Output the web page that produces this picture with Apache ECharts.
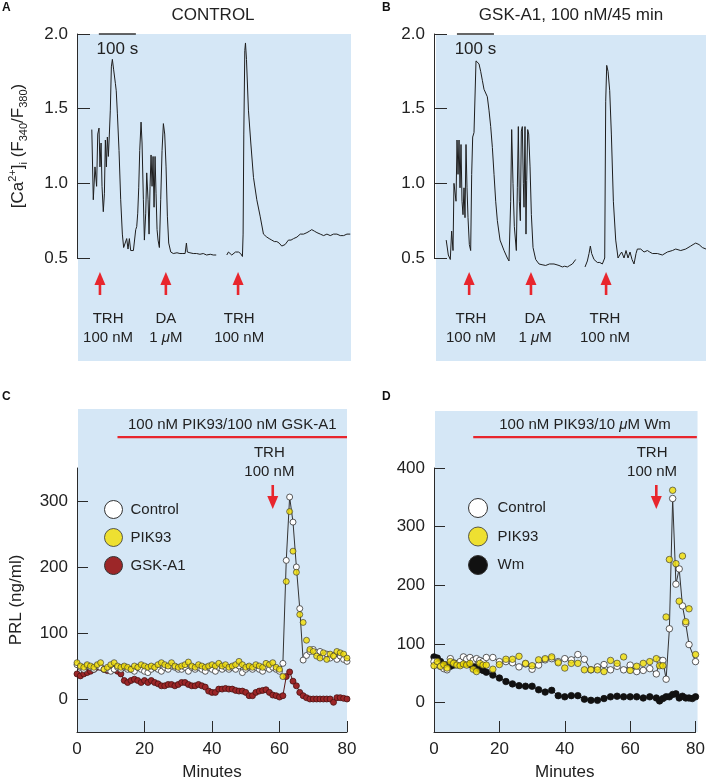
<!DOCTYPE html>
<html><head><meta charset="utf-8">
<script src="https://cdn.jsdelivr.net/npm/echarts/dist/echarts.min.js"></script>
<style>html,body{margin:0;padding:0;background:#fff}#c{width:708px;height:782px}</style>
</head><body><div id="c"></div>
<script>
// ---------- DATA ----------
// Panel A: [Ca2+]i trace, control (time in s, ratio F340/F380)
const traceA = [[40,1.36],[44,0.89],[48.6,1.11],[53,0.98],[56,1.33],[59.5,1.37],[62,1.11],[65,1.27],[67.6,0.98],[71,0.81],[74,0.93],[76.6,1.29],[79.3,1.11],[82,1.31],[84.7,1.18],[87.4,1.33],[90,1.49],[92.8,1.78],[95.5,1.83],[99,1.76],[103.6,1.67],[106,1.62],[109,1.47],[113.5,1.22],[118,0.89],[122.5,0.66],[126,0.57],[130.6,0.56],[134.2,0.63],[137.8,0.56],[141.4,0.63],[145,0.55],[152.3,0.55],[156.8,0.56],[158.6,0.69],[161.3,0.71],[164,0.80],[166.7,0.97],[169.4,1.22],[173,1.41],[175.7,1.27],[179.3,0.89],[182,0.62],[185.6,0.80],[188.3,1.07],[191.9,0.89],[194.6,0.66],[197.3,0.98],[200,1.19],[202.7,0.98],[205.4,1.18],[208.1,0.84],[210.8,1.18],[213.5,0.93],[216.2,0.69],[218.9,0.62],[222.5,0.57],[226.1,0.89],[229.7,1.22],[233.3,1.40],[236.9,1.33],[240.5,1.11],[244.1,0.78],[247.7,0.60],[253.2,0.54],[260,0.53],[270,0.535],[278,0.53],[286,0.53],[292,0.53],[295.5,0.60],[298,0.54],[305,0.535],[314,0.53],[323,0.53],[332,0.525],[341,0.53],[350,0.52],[360,0.525],[368,0.52],[376,0.52],[390,'-'],[404.5,0.52],[409,0.54],[413.5,0.54],[418,0.52],[422.5,0.53],[428,0.54],[432,0.53],[436,0.54],[442,0.53],[446.8,0.51],[448.6,0.66],[450.5,1.33],[453.2,1.89],[455,1.94],[457.7,1.83],[463,1.49],[469.4,1.27],[476.6,1.04],[485.6,0.89],[494.6,0.78],[503.6,0.66],[512.6,0.64],[519,0.63],[526,0.62],[533,0.61],[539.6,0.61],[546,0.60],[553,0.58],[558,0.59],[562,0.59],[566,0.60],[571,0.62],[578,0.62],[585,0.63],[594,0.64],[603,0.66],[612,0.66],[621,0.67],[628,0.68],[634,0.69],[641,0.68],[648,0.67],[657,0.66],[666,0.65],[675,0.66],[684,0.65],[693,0.66],[702,0.66],[711,0.65],[720,0.65],[729,0.66],[738,0.66]];
// Panel B: [Ca2+]i trace, GSK-A1 100 nM/45 min
const traceB = [[33,0.62],[38.7,0.52],[44,0.49],[47.7,0.68],[51.4,0.55],[54,1.0],[56.8,1.0],[59.5,0.88],[62.2,1.29],[64.9,1.06],[67.6,1.29],[70.3,0.97],[73,1.26],[75.7,0.88],[78.4,0.79],[81.1,0.97],[83.8,0.77],[86.5,1.26],[89.2,0.97],[91.9,0.77],[95.5,0.59],[99.1,0.55],[101.8,1.06],[104.5,1.31],[108.1,1.34],[111.7,1.35],[113.5,1.82],[117.1,1.81],[121.6,1.80],[126.1,1.75],[130.6,1.69],[135.1,1.63],[139.6,1.63],[144.1,1.58],[148.6,1.49],[153.2,1.38],[157.7,1.24],[162.2,1.06],[166.7,0.88],[171.2,0.75],[178.4,0.62],[189.2,0.55],[198.2,0.50],[202.7,0.48],[207.2,0.88],[209.9,1.36],[213.5,1.0],[217.1,0.71],[222.5,0.55],[225.2,0.97],[227.9,1.38],[230.6,0.88],[233.3,0.75],[236,1.35],[238.7,1.38],[241.4,1.0],[243.2,0.84],[245.9,1.38],[248.6,0.66],[250.5,1.02],[253.2,1.36],[255.9,1.33],[259.5,1.11],[263.1,0.79],[267.6,0.57],[274.8,0.49],[283.8,0.46],[292,0.455],[301.8,0.45],[312,0.46],[324.3,0.46],[337.8,0.45],[346.8,0.44],[353,0.445],[360.4,0.44],[367,0.45],[373.9,0.46],[382.9,0.49],[395,'-'],[408.1,0.44],[414.4,0.48],[418.9,0.53],[422.5,0.58],[426.1,0.53],[432.4,0.49],[441.4,0.47],[448,0.47],[454.9,0.46],[461.3,0.50],[464,1.55],[466.7,1.79],[470.3,1.75],[474.8,1.62],[479.3,1.33],[484.7,0.88],[491,0.62],[497.3,0.50],[501.8,0.52],[507.2,0.54],[513.5,0.50],[518.9,0.55],[524.3,0.50],[529.7,0.54],[535.1,0.49],[540.5,0.46],[545.9,0.53],[549.5,0.56],[558.6,0.56],[567.6,0.54],[576.6,0.55],[583,0.54],[590.1,0.53],[603.6,0.53],[617.1,0.52],[630.6,0.54],[644.1,0.55],[653.2,0.56],[666.7,0.55],[680.2,0.56],[693.7,0.58],[700,0.59],[707.2,0.60],[716.2,0.59],[725.2,0.57],[735,0.56]];
const caTicks = [0.5, 1.0, 1.5, 2.0];
const scaleBarA = [59, 159];
const scaleBarB = [62, 162];
const stimA = [62, 240, 435];
const stimB = [95, 262, 465];
const stimLabelA = [84, 240, 438];
const stimLabelB = [100, 273, 462];
const stimText = ['TRH\n100 nM', 'DA\n1 {i|μ}M', 'TRH\n100 nM'];

// Panel C: PRL (ng/ml), one sample per minute, 0..80 min
const ctrlC = [52,48,45,50,48,45,50,48,45,45,42,45,48,45,48,45,45,42,48,45,42,40,45,48,45,42,48,45,50,48,45,45,48,42,48,45,48,45,42,48,45,42,48,45,48,45,48,45,50,40,45,48,45,48,45,42,48,45,48,45,42,54,210,306,268,200,137,59,66,72,75,70,72,65,68,62,66,60,65,60,57];
const pikC = [55,50,48,52,50,48,52,55,45,48,52,55,50,48,50,48,45,50,48,52,50,48,50,48,52,55,52,50,55,50,48,50,52,56,50,48,52,50,48,50,52,50,54,50,52,48,50,52,57,52,48,50,48,52,50,48,54,52,55,48,45,34,178,284,224,192,128,116,89,75,72,65,62,70,60,68,65,72,70,68,62];
const gskC = [38,35,38,40,42,45,48,48,45,43,45,45,42,38,28,25,28,30,28,25,28,25,28,25,23,20,20,22,22,20,22,25,25,22,20,20,22,20,18,12,10,10,15,15,16,15,15,13,12,12,10,5,5,10,12,13,14,10,6,5,3,5,34,41,27,20,10,5,2,0,0,0,0,0,0,0,-5,2,2,1,0];
const prlTicksC = [0, 100, 200, 300];
const treatC = [12, 80];
const trhC = 58, trhLabelC = 57;
const treatTextC = '100 nM PIK93/100 nM GSK-A1';

// Panel D: PRL (ng/ml), [minute, value]
const ctrlD = [[0,70],[1,65],[2,62],[3,58],[4,56],[5,75],[6,68],[7,66],[8,70],[9,78],[10,74],[11,77],[12,72],[13,75],[14,72],[15,70],[16,77],[18,77],[20,70],[22,70],[24,68],[26,61],[28,66],[30,57],[32,64],[34,73],[36,75],[38,70],[40,75],[42,73],[44,82],[46,74],[48,56],[50,61],[52,65],[54,56],[56,62],[58,56],[60,64],[62,53],[64,55],[66,58],[68,49],[69,72],[70,72],[71,40],[72,126],[73,348],[74,202],[75,228],[76,165],[77,135],[78,99],[80,70]];
const pikD = [[0,63],[1,70],[2,62],[3,65],[4,59],[5,70],[6,67],[7,64],[8,63],[9,66],[10,64],[11,67],[12,57],[13,53],[14,67],[15,64],[16,64],[18,57],[20,65],[22,74],[24,74],[26,79],[28,67],[30,63],[32,73],[34,75],[36,78],[38,68],[40,59],[42,67],[44,67],[46,56],[48,56],[50,56],[52,53],[54,72],[56,67],[58,78],[60,55],[62,62],[64,67],[66,70],[68,75],[69,63],[70,63],[71,146],[72,244],[73,362],[74,237],[75,173],[76,250],[77,138],[78,160],[80,82]];
const wmD = [[0,78],[1,76],[2,70],[3,65],[4,64],[5,62],[6,64],[7,66],[8,66],[9,68],[10,67],[11,65],[12,62],[13,60],[14,57],[15,55],[16,52],[18,47],[20,42],[22,36],[24,32],[26,29],[28,28],[30,28],[32,22],[34,18],[36,21],[38,12],[40,10],[42,12],[44,12],[46,6],[48,4],[50,4],[52,7],[54,10],[56,11],[58,10],[60,10],[62,10],[64,8],[66,10],[68,8],[69,3],[70,7],[71,10],[72,10],[73,14],[74,15],[75,8],[76,11],[77,8],[78,8],[79,7],[80,10]];
const prlTicksD = [0, 100, 200, 300, 400];
const treatD = [12, 80.4];
const trhD = 68, trhLabelD = 66.7;
const treatTextD = '100 nM PIK93/10 {i|μ}M Wm';
const minuteTicks = [0, 20, 40, 60, 80];

// ---------- STYLE ----------
const FONT = 'Liberation Sans, Arial, Helvetica, sans-serif';
const BLUE = '#d5e7f6';
const RED = '#e8262d';
const INK = '#222';
const AX = '#2a2a2a';

const chart = echarts.init(document.getElementById('c'), null, {renderer: 'canvas'});

function caY(idx, withName) {
  const o = {
    gridIndex: idx, type: 'value', min: 0.5, max: 2.0, interval: 0.5,
    axisLine: {show: true, onZero: false, lineStyle: {color: AX, width: 1}},
    axisTick: {show: true, inside: true, length: 13, lineStyle: {color: AX, width: 1}},
    axisLabel: {fontSize: 17, fontFamily: FONT, color: INK, margin: 9, formatter: v => v.toFixed(1)},
    splitLine: {show: false}
  };
  if (withName) {
    o.name = '[Ca{sup|2+}]{sub|i} (F{sub|340}/F{sub|380})';
    o.nameLocation = 'middle';
    o.nameGap = 48;
    o.nameTextStyle = {fontSize: 17, fontFamily: FONT, color: INK,
      rich: {sup: {fontSize: 11, fontFamily: FONT, color: INK, verticalAlign: 'top', lineHeight: 22},
             sub: {fontSize: 11, fontFamily: FONT, color: INK, verticalAlign: 'bottom', lineHeight: 14}}};
  }
  return o;
}
function prlY(idx, max, ticks, withName) {
  const o = {
    gridIndex: idx, type: 'value', min: -50, max: max,
    axisLine: {show: true, onZero: false, lineStyle: {color: AX, width: 1}},
    axisTick: {show: true, inside: true, length: 11, customValues: ticks, lineStyle: {color: AX}},
    axisLabel: {fontSize: 17, fontFamily: FONT, color: INK, margin: 9, customValues: ticks},
    splitLine: {show: false}
  };
  if (withName) {
    o.name = 'PRL (ng/ml)'; o.nameLocation = 'middle'; o.nameGap = 52;
    o.nameTextStyle = {fontSize: 17, fontFamily: FONT, color: INK};
  }
  return o;
}
function minX(idx) {
  return {
    gridIndex: idx, type: 'value', min: 0, max: 80,
    axisLine: {show: true, onZero: false, lineStyle: {color: AX, width: 1}},
    axisTick: {show: true, inside: true, length: 11, customValues: minuteTicks, lineStyle: {color: AX}},
    axisLabel: {fontSize: 17, fontFamily: FONT, color: INK, margin: 9, customValues: minuteTicks},
    splitLine: {show: false},
    name: 'Minutes', nameLocation: 'middle', nameGap: 32,
    nameTextStyle: {fontSize: 17, fontFamily: FONT, color: INK}
  };
}
const mk = (fill, border) => ({color: fill, borderColor: border, borderWidth: 0.8});

const option = {
  animation: false,
  backgroundColor: '#fff',
  grid: [
    {left: 77, top: 34, width: 274, height: 224},
    {left: 434, top: 34, width: 272, height: 224},
    {left: 77, top: 468, width: 270, height: 268},
    {left: 434, top: 468, width: 269, height: 268}
  ],
  xAxis: [
    {gridIndex: 0, type: 'value', min: 0, max: 740, show: false},
    {gridIndex: 1, type: 'value', min: 0, max: 735, show: false},
    minX(2), minX(3)
  ],
  yAxis: [caY(0, true), caY(1, false), prlY(2, 350, prlTicksC, true), prlY(3, 400, prlTicksD, false)],
  legend: [
    {data: ['Control', 'PIK93', 'GSK-A1'], orient: 'vertical', left: 99, top: 495, itemWidth: 18, itemHeight: 18, itemGap: 9,
     icon: 'circle', selectedMode: false, textStyle: {fontSize: 15, fontFamily: FONT, color: INK, padding: [0, 0, 0, 3]},
     itemStyle: {borderColor: '#333', borderWidth: 1}},
    {data: ['Control', 'PIK93', 'Wm'], orient: 'vertical', left: 463, top: 493, itemWidth: 19, itemHeight: 19, itemGap: 8.5,
     icon: 'circle', selectedMode: false, textStyle: {fontSize: 15, fontFamily: FONT, color: INK, padding: [0, 0, 0, 5]},
     itemStyle: {borderColor: '#333', borderWidth: 1}}
  ],
  series: [
    {type: 'line', xAxisIndex: 0, yAxisIndex: 0, data: traceA, showSymbol: false, connectNulls: false, clip: false,
     lineStyle: {color: '#1e1e1e', width: 1}},
    {type: 'line', xAxisIndex: 1, yAxisIndex: 1, data: traceB, showSymbol: false, connectNulls: false, clip: false,
     lineStyle: {color: '#1e1e1e', width: 1}},
    {type: 'line', xAxisIndex: 0, yAxisIndex: 0, data: [[scaleBarA[0], caTicks[3]], [scaleBarA[1], caTicks[3]]], showSymbol: false, clip: false,
     lineStyle: {color: '#333', width: 1.3}},
    {type: 'line', xAxisIndex: 1, yAxisIndex: 1, data: [[scaleBarB[0], caTicks[3]], [scaleBarB[1], caTicks[3]]], showSymbol: false, clip: false,
     lineStyle: {color: '#333', width: 1.3}},
    // Panel C
    {name: 'GSK-A1', type: 'line', xAxisIndex: 2, yAxisIndex: 2, data: gskC.map((v, i) => [i, v]),
     symbol: 'circle', symbolSize: 6, itemStyle: mk('#9c2628', '#4a1212'), lineStyle: {color: '#5a1515', width: 1}, z: 2},
    {name: 'Control', type: 'line', xAxisIndex: 2, yAxisIndex: 2, data: ctrlC.map((v, i) => [i, v]),
     symbol: 'circle', symbolSize: 6, itemStyle: mk('#ffffff', '#333'), lineStyle: {color: '#333', width: 1}, z: 3},
    {name: 'PIK93', type: 'scatter', xAxisIndex: 2, yAxisIndex: 2, data: pikC.map((v, i) => [i, v]),
     symbol: 'circle', symbolSize: 6, itemStyle: mk('#f4de00', '#333'), z: 4},
    // Panel D
    {name: 'Wm', type: 'line', xAxisIndex: 3, yAxisIndex: 3, data: wmD,
     symbol: 'circle', symbolSize: 6.5, itemStyle: mk('#111111', '#111'), lineStyle: {color: '#111', width: 1}, z: 2},
    {name: 'Control', type: 'line', xAxisIndex: 3, yAxisIndex: 3, data: ctrlD,
     symbol: 'circle', symbolSize: 6.5, itemStyle: mk('#ffffff', '#333'), lineStyle: {color: '#333', width: 1}, z: 3},
    {name: 'PIK93', type: 'scatter', xAxisIndex: 3, yAxisIndex: 3, data: pikD,
     symbol: 'circle', symbolSize: 6.5, itemStyle: mk('#f4de00', '#333'), z: 4}
  ]
};
chart.setOption(option);

// ---------- ANNOTATIONS (positions from the axes' own scales) ----------
const P = (gi, x, y) => chart.convertToPixel({gridIndex: gi}, [x, y]);
const g = [];
const rect = (x, y, w, h) => g.push({type: 'rect', z: -10, silent: true, shape: {x, y, width: w, height: h}, style: {fill: BLUE}});
const text = (t, x, y, size, extra) => g.push({type: 'text', z: 10, silent: true,
  style: Object.assign({text: t, x, y, align: 'center', verticalAlign: 'middle', font: size + 'px ' + FONT, fill: INK,
    lineHeight: 19, rich: {i: {fontStyle: 'italic', fontSize: size, fontFamily: FONT, fill: INK}}}, extra || {})});
function upArrow(x, yTip, yBase) {
  g.push({type: 'polygon', z: 10, silent: true, shape: {points: [[x, yTip], [x - 5.5, yTip + 13], [x + 5.5, yTip + 13]]}, style: {fill: RED}});
  g.push({type: 'rect', z: 10, silent: true, shape: {x: x - 1.3, y: yTip + 11, width: 2.6, height: yBase - yTip - 11}, style: {fill: RED}});
}
function downArrow(x, yTop, yTip) {
  g.push({type: 'rect', z: 10, silent: true, shape: {x: x - 1.3, y: yTop, width: 2.6, height: yTip - yTop - 11}, style: {fill: RED}});
  g.push({type: 'polygon', z: 10, silent: true, shape: {points: [[x, yTip], [x - 5.5, yTip - 13], [x + 5.5, yTip - 13]]}, style: {fill: RED}});
}

// backgrounds
const a0 = P(0, 0, 2.0), a1 = P(0, 740, 0.5);
rect(a0[0] + 1, a0[1], a1[0] - a0[0] - 1, 361 - a0[1]);
const b0 = P(1, 0, 2.0), b1 = P(1, 735, 0.5);
rect(b0[0] + 2, b0[1] + 1, b1[0] - b0[0] - 2, 361 - b0[1] - 1);
const c0 = P(2, 0, -50), c1 = P(2, 80, -50);
rect(c0[0] + 1, 409, c1[0] - c0[0] - 1, c0[1] - 409);
const d0 = P(3, 0, -50), d1 = P(3, 80, -50);
rect(d0[0] + 1, 411, d1[0] - d0[0] + 1, d0[1] - 411);

// panels A & B: scale bar label, stimulus arrows and labels
[[0, scaleBarA, stimA, stimLabelA], [1, scaleBarB, stimB, stimLabelB]].forEach(([gi, bar, stim, lab]) => {
  const base = P(gi, bar[0], 0.5)[1];
  const mid = P(gi, (bar[0] + bar[1]) / 2, 2.0);
  text('100 s', mid[0], mid[1] + 15, 17);
  stim.forEach(t => upArrow(P(gi, t, 0.5)[0], base + 14, base + 37));
  lab.forEach((t, i) => text(stimText[i], P(gi, t, 0.5)[0], base + 70, 15));
});

// panels C & D: treatment bar, TRH arrow and label
[[2, treatC, treatTextC, trhC, trhLabelC, 350], [3, treatD, treatTextD, trhD, trhLabelD, 400]].forEach(([gi, tr, tt, trh, trhLab, top]) => {
  const yTop = P(gi, 0, top)[1];
  const s = P(gi, tr[0], top), e = P(gi, tr[1], top);
  g.push({type: 'rect', z: 10, silent: true, shape: {x: s[0], y: yTop - 32, width: e[0] - s[0], height: 2.2}, style: {fill: RED}});
  text(tt, (s[0] + e[0]) / 2, yTop - 43, 15);
  downArrow(P(gi, trh, 0)[0], yTop + 17, yTop + 41);
  text('TRH\n100 nM', P(gi, trhLab, 0)[0], yTop - 6, 15);
});

// titles and panel letters
text('CONTROL', 213, 15, 17);
text('GSK-A1, 100 nM/45 min', 571, 15, 17);
const letter = (t, x, y) => g.push({type: 'text', z: 10, silent: true, style: {text: t, x, y, align: 'left', verticalAlign: 'top', font: 'bold 12px ' + FONT, fill: '#111'}});
letter('A', 2, 2); letter('B', 382, 2); letter('C', 2, 391); letter('D', 382, 391);

chart.setOption({graphic: g});
</script></body></html>
